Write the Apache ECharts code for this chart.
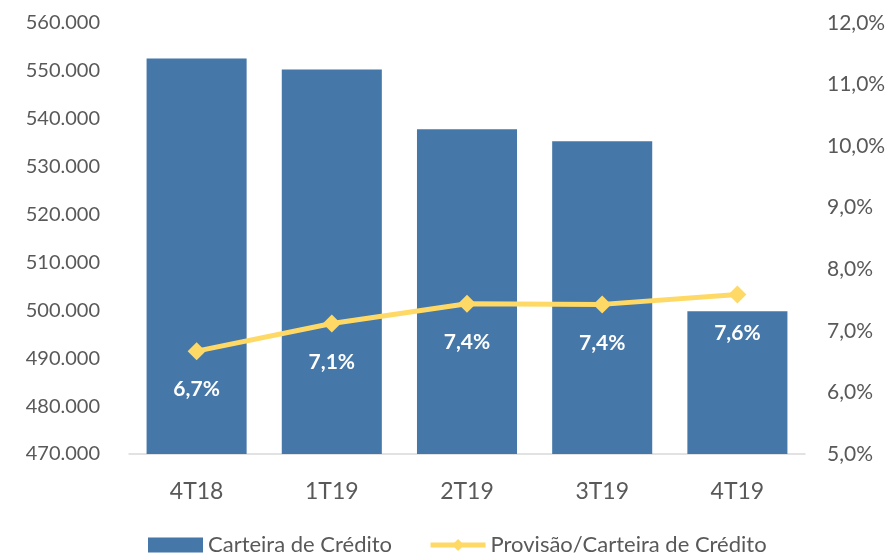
<!DOCTYPE html>
<html>
<head>
<meta charset="utf-8">
<script src="https://cdn.jsdelivr.net/npm/echarts@6/dist/echarts.min.js"></script>
<style>html,body{margin:0;padding:0;background:#fff}#c{width:890px;height:554px}</style>
</head>
<body>
<div id="c"></div>
<script>
const categories = ['4T18', '1T19', '2T19', '3T19', '4T19'];
const carteira = [552600, 550300, 537800, 535300, 499800];
const provisao = [6.67, 7.12, 7.44, 7.43, 7.59];
const seriesNames = ['Carteira de Crédito', 'Provisão/Carteira de Crédito'];

function fmtThousands(v) {
  const s = Math.round(v).toString();
  return s.replace(/\B(?=(\d{3})+(?!\d))/g, '.');
}
function fmtPct(v) { return v.toFixed(1).replace('.', ',') + '%'; }

const font = 'Lato, "Noto Sans", sans-serif';
const chart = echarts.init(document.getElementById('c'), null, {renderer: 'canvas'});
chart.setOption({
  animation: false,
  textStyle: {fontFamily: font},
  grid: {left: 129, right: 85, top: 23, bottom: 100},
  legend: {
    top: 529, left: 143,
    itemWidth: 55, itemHeight: 15, itemGap: 36,
    textStyle: {fontSize: 22, color: '#595959', fontFamily: font},
    data: [
      {name: seriesNames[0], icon: 'rect'},
      {name: seriesNames[1], lineStyle: {width: 5}}
    ]
  },
  xAxis: {
    type: 'category', data: categories,
    axisLine: {lineStyle: {color: '#D9D9D9', width: 1.5}},
    axisTick: {show: false},
    axisLabel: {fontSize: 23, color: '#595959', margin: 26, fontFamily: font}
  },
  yAxis: [
    {
      type: 'value', min: 470000, max: 560000, interval: 10000,
      splitLine: {show: false}, axisLine: {show: false}, axisTick: {show: false},
      axisLabel: {fontSize: 20, color: '#595959', margin: 29, formatter: fmtThousands, fontFamily: font}
    },
    {
      type: 'value', min: 5, max: 12, interval: 1,
      splitLine: {show: false}, axisLine: {show: false}, axisTick: {show: false},
      axisLabel: {fontSize: 21, color: '#595959', margin: 22, formatter: fmtPct, fontFamily: font}
    }
  ],
  series: [
    {
      name: seriesNames[0], type: 'bar', data: carteira, yAxisIndex: 0,
      barCategoryGap: '26%',
      itemStyle: {color: '#4577A8'}
    },
    {
      name: seriesNames[1], type: 'line', data: provisao, yAxisIndex: 1,
      symbol: 'diamond', symbolSize: 18,
      lineStyle: {color: '#FFD966', width: 5},
      itemStyle: {color: '#FFD966'},
      label: {
        show: true, position: 'bottom', distance: 19,
        color: '#fff', fontWeight: 'bold', fontSize: 21, fontFamily: font,
        formatter: p => fmtPct(p.value)
      }
    }
  ]
});
</script>
</body>
</html>
